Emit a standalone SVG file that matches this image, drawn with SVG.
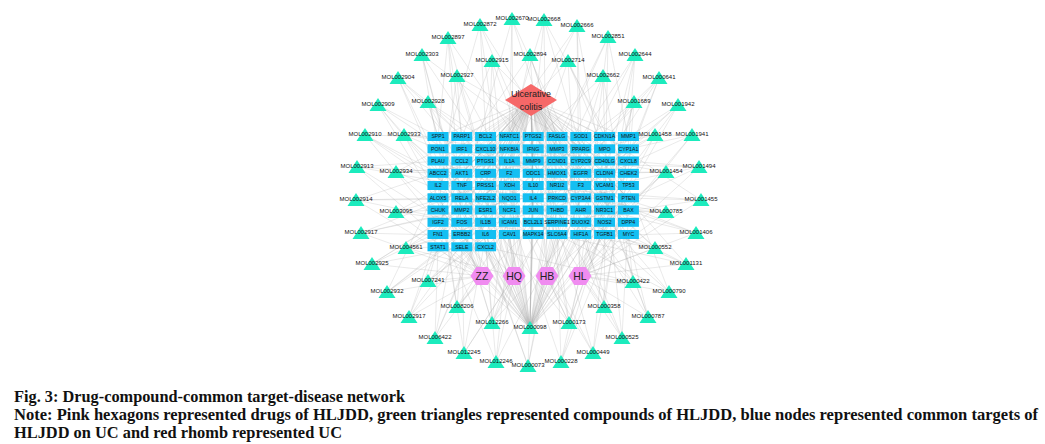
<svg xmlns="http://www.w3.org/2000/svg" xmlns:xlink="http://www.w3.org/1999/xlink" width="1045" height="444" viewBox="0 0 1045 444">
<defs>
<style>
.e{fill:none;stroke:#a8a8a8;stroke-width:.45;stroke-opacity:.55}
.tri{fill:#1cebbd}
.lbl{font-family:"Liberation Sans",Arial,sans-serif;font-size:6px;fill:#111;text-anchor:middle}
.tb{fill:#14bff2}
.tt{font-family:"Liberation Sans",Arial,sans-serif;font-size:5.2px;fill:#111;text-anchor:middle}
.hx{fill:#f08cf0}
.ht{font-family:"Liberation Sans",Arial,sans-serif;font-size:10.5px;fill:#222;text-anchor:middle}
.cap{font-family:"Liberation Serif","Times New Roman",serif;font-weight:bold;font-size:16.5px;fill:#111}
</style>
<path id="tri" class="tri" d="M0 -7L8.5 6H-8.5Z"/>
<rect id="box" class="tb" x="-10.5" y="-4.5" width="21" height="9"/>
<polygon id="hex" class="hx" points="-11.5,0 -5.75,-9 5.75,-9 11.5,0 5.75,9 -5.75,9"/>
</defs>
<rect width="1045" height="444" fill="#fff"/>
<g id="connectors">
<path class="e" d="M531 100L438 137M531 100L462 137M531 100L486 137M531 100L509 137M531 100L533 137M531 100L557 137M531 100L581 137M531 100L605 137M531 100L628 137M531 100L438 149M531 100L462 149M531 100L486 149M531 100L509 149M531 100L533 149M531 100L557 149M531 100L581 149M531 100L605 149M531 100L628 149M531 100L438 161M531 100L462 161M531 100L486 161M531 100L509 161M531 100L533 161M531 100L557 161M531 100L581 161M531 100L605 161M531 100L628 161M531 100L438 173M531 100L462 173M531 100L486 173M531 100L509 173M531 100L533 173M531 100L557 173M531 100L581 173M531 100L605 173M531 100L628 173M531 100L438 186M531 100L462 186M531 100L486 186M531 100L509 186M531 100L533 186M531 100L557 186M531 100L581 186M531 100L605 186M531 100L628 186M531 100L438 198M531 100L462 198M531 100L486 198M531 100L509 198M531 100L533 198M531 100L557 198M531 100L581 198M531 100L605 198M531 100L628 198M531 100L438 210M531 100L462 210M531 100L486 210M531 100L509 210M531 100L533 210M531 100L557 210M531 100L581 210M531 100L605 210M531 100L628 210M531 100L438 222M531 100L462 222M531 100L486 222M531 100L509 222M531 100L533 222M531 100L557 222M531 100L581 222M531 100L605 222M531 100L628 222M531 100L438 235M531 100L462 235M531 100L486 235M531 100L509 235M531 100L533 235M531 100L557 235M531 100L581 235M531 100L605 235M531 100L628 235M531 100L438 247M531 100L462 247M531 100L486 247"/>
<path class="e" d="M480 25L514 276M512 19L514 276M544 20L547 276M577 26L580 276M448 38L482 276M608 37L580 276M422 55L482 276M635 55L580 276M492 61L514 276M530 55L547 276M568 61L580 276M398 78L482 276M457 76L514 276M603 76L547 276M659 78L580 276M378 105L482 276M428 102L514 276M634 102L580 276M678 105L580 276M365 135L482 276M404 135L482 276M357 167L482 276M396 172L514 276M356 200L482 276M396 212L482 276M361 233L482 276M406 248L514 276M372 264L482 276M428 281L482 276M387 292L482 276M655 135L580 276M692 135L580 276M666 172L547 276M699 167L580 276M701 200L580 276M666 212L580 276M696 233L580 276M655 248L580 276M686 264L580 276M633 282L580 276M669 292L580 276M457 307L482 276M409 317L482 276M492 323L514 276M530 328L482 276M530 328L514 276M530 328L547 276M530 328L580 276M569 323L580 276M569 323L547 276M604 307L580 276M648 317L580 276M435 338L482 276M622 338L580 276M464 353L514 276M593 353L547 276M496 362L514 276M528 366L547 276M561 362L580 276"/>
<path class="e" d="M480 25L486 137M480 25L533 149M480 25L438 173M480 25L581 186M512 19L509 137M512 19L557 161M512 19L462 198M512 19L605 222M544 20L533 137M544 20L581 149M544 20L486 210M544 20L628 173M577 26L581 137M577 26L509 161M577 26L605 186M577 26L438 222M448 38L438 137M448 38L486 173M448 38L557 198M448 38L462 235M608 37L628 137M608 37L557 149M608 37L605 198M608 37L509 235M422 55L438 149M422 55L509 186M422 55L462 210M422 55L581 173M635 55L628 149M635 55L581 161M635 55L533 210M635 55L605 235M492 61L462 137M492 61L533 173M492 61L486 222M492 61L628 198M530 55L509 149M530 55L557 137M530 55L438 186M530 55L581 210M568 61L605 137M568 61L533 161M568 61L628 210M568 61L462 173M398 78L438 161M398 78L486 149M398 78L509 210M398 78L557 222M457 76L462 149M457 76L509 173M457 76L438 210M457 76L605 161M603 76L605 149M603 76L557 173M603 76L628 222M603 76L486 186M659 78L628 161M659 78L581 198M659 78L533 222M659 78L486 247M378 105L438 173M378 105L462 161M378 105L533 186M378 105L486 235M428 102L438 137M428 102L486 161M428 102L557 186M428 102L462 222M634 102L628 173M634 102L581 173M634 102L509 198M634 102L605 210M678 105L628 137M678 105L605 173M678 105L557 210M678 105L581 235"/>
<path class="e" d="M365 135L438 137M365 135L438 186M365 135L486 198M365 135L533 235M404 135L438 149M404 135L462 186M404 135L509 222M404 135L581 161M357 167L438 161M357 167L462 173M357 167L533 198M357 167L486 247M396 172L438 173M396 172L486 210M396 172L557 161M396 172L462 137M356 200L438 198M356 200L462 222M356 200L509 149M356 200L605 198M396 212L438 210M396 212L486 186M396 212L533 137M396 212L557 235M361 233L438 235M361 233L462 210M361 233L581 186M361 233L509 173M406 248L438 247M406 248L486 222M406 248L533 161M406 248L628 186M372 264L438 222M372 264L462 247M372 264L509 198M372 264L557 149M428 281L438 247M428 281L486 235M428 281L533 173M428 281L605 149M387 292L462 235M387 292L509 210M387 292L438 186M387 292L581 137M655 135L628 137M655 135L605 161M655 135L557 198M655 135L486 173M692 135L628 149M692 135L581 186M692 135L628 210M692 135L509 137M666 172L628 173M666 172L605 222M666 172L533 149M666 172L557 173M699 167L628 161M699 167L581 222M699 167L486 161M699 167L605 186M701 200L628 198M701 200L605 137M701 200L557 222M701 200L509 186M666 212L628 210M666 212L581 198M666 212L462 149M666 212L533 210M696 233L628 235M696 233L605 210M696 233L509 161M696 233L557 186M655 248L628 222M655 248L581 235M655 248L486 198M655 248L533 137M686 264L628 235M686 264L605 173M686 264L557 235M686 264L438 161M633 282L628 235M633 282L581 210M633 282L486 247M633 282L605 161M633 282L486 149M669 292L605 235M669 292L628 186M669 292L557 161M669 292L533 222"/>
<path class="e" d="M457 307L462 247M457 307L509 222M457 307L438 173M457 307L557 198M409 317L438 247M409 317L486 210M409 317L533 186M409 317L462 161M492 323L486 247M492 323L462 222M492 323L509 173M492 323L557 137M492 323L605 198M492 323L438 149M492 323L581 161M569 323L557 235M569 323L605 222M569 323L509 198M569 323L628 161M569 323L462 186M569 323L533 149M604 307L605 235M604 307L581 222M604 307L533 198M604 307L628 149M648 317L628 235M648 317L605 198M648 317L557 173M648 317L581 137M435 338L438 247M435 338L486 222M435 338L509 161M435 338L462 198M622 338L628 222M622 338L581 235M622 338L533 161M622 338L605 173M464 353L462 247M464 353L486 235M464 353L557 210M464 353L438 186M593 353L605 235M593 353L557 222M593 353L628 173M593 353L509 186M496 362L486 247M496 362L509 235M496 362L438 222M496 362L581 198M528 366L533 235M528 366L486 247M528 366L557 210M528 366L462 173M561 362L557 235M561 362L605 222M561 362L509 210M561 362L628 198"/>
<path class="e" d="M530 328L438 137M530 328L462 137M530 328L486 137M530 328L509 137M530 328L533 137M530 328L557 137M530 328L581 137M530 328L605 137M530 328L628 137M530 328L438 149M530 328L486 149M530 328L533 149M530 328L581 149M530 328L628 149M530 328L462 161M530 328L509 161M530 328L557 161M530 328L605 161M530 328L438 173M530 328L486 173M530 328L533 173M530 328L581 173M530 328L628 173M530 328L462 186M530 328L509 186M530 328L557 186M530 328L605 186M530 328L438 198M530 328L486 198M530 328L533 198M530 328L581 198M530 328L628 198M530 328L462 210M530 328L509 210M530 328L557 210M530 328L605 210M530 328L438 222M530 328L486 222M530 328L533 222M530 328L581 222M530 328L628 222M530 328L462 235M530 328L509 235M530 328L557 235M530 328L605 235M530 328L438 247M530 328L462 247M530 328L486 247"/>
</g>
<g id="Ulcerative-colitis">
<polygon points="531,84 557,100 531,116 505,100" fill="#f66868"/>
<text x="531" y="96.5" font-family="Liberation Sans,Arial,sans-serif" font-size="9" fill="#222" text-anchor="middle">Ulcerative</text>
<text x="531" y="109.5" font-family="Liberation Sans,Arial,sans-serif" font-size="9" fill="#222" text-anchor="middle">colitis</text>
</g>
<g id="drugs">
<g id="ZZ" transform="translate(482,276)"><use href="#hex"/><text class="ht" y="3.7">ZZ</text></g>
<g id="HQ" transform="translate(514,276)"><use href="#hex"/><text class="ht" y="3.7">HQ</text></g>
<g id="HB" transform="translate(547,276)"><use href="#hex"/><text class="ht" y="3.7">HB</text></g>
<g id="HL" transform="translate(580,276)"><use href="#hex"/><text class="ht" y="3.7">HL</text></g>
</g>
<g id="targets">
<g id="t-SPP1" transform="translate(438,136.5)"><use href="#box"/><text class="tt" y="1.8">SPP1</text></g>
<g id="t-PARP1" transform="translate(461.8,136.5)"><use href="#box"/><text class="tt" y="1.8">PARP1</text></g>
<g id="t-BCL2" transform="translate(485.6,136.5)"><use href="#box"/><text class="tt" y="1.8">BCL2</text></g>
<g id="t-NFATC1" transform="translate(509.4,136.5)"><use href="#box"/><text class="tt" y="1.8">NFATC1</text></g>
<g id="t-PTGS2" transform="translate(533.2,136.5)"><use href="#box"/><text class="tt" y="1.8">PTGS2</text></g>
<g id="t-FASLG" transform="translate(557,136.5)"><use href="#box"/><text class="tt" y="1.8">FASLG</text></g>
<g id="t-SOD1" transform="translate(580.8,136.5)"><use href="#box"/><text class="tt" y="1.8">SOD1</text></g>
<g id="t-CDKN1A" transform="translate(604.6,136.5)"><use href="#box"/><text class="tt" y="1.8">CDKN1A</text></g>
<g id="t-MMP1" transform="translate(628.4,136.5)"><use href="#box"/><text class="tt" y="1.8">MMP1</text></g>
<g id="t-PON1" transform="translate(438,148.8)"><use href="#box"/><text class="tt" y="1.8">PON1</text></g>
<g id="t-IRF1" transform="translate(461.8,148.8)"><use href="#box"/><text class="tt" y="1.8">IRF1</text></g>
<g id="t-CXCL10" transform="translate(485.6,148.8)"><use href="#box"/><text class="tt" y="1.8">CXCL10</text></g>
<g id="t-NFKBIA" transform="translate(509.4,148.8)"><use href="#box"/><text class="tt" y="1.8">NFKBIA</text></g>
<g id="t-IFNG" transform="translate(533.2,148.8)"><use href="#box"/><text class="tt" y="1.8">IFNG</text></g>
<g id="t-MMP3" transform="translate(557,148.8)"><use href="#box"/><text class="tt" y="1.8">MMP3</text></g>
<g id="t-PPARG" transform="translate(580.8,148.8)"><use href="#box"/><text class="tt" y="1.8">PPARG</text></g>
<g id="t-MPO" transform="translate(604.6,148.8)"><use href="#box"/><text class="tt" y="1.8">MPO</text></g>
<g id="t-CYP1A1" transform="translate(628.4,148.8)"><use href="#box"/><text class="tt" y="1.8">CYP1A1</text></g>
<g id="t-PLAU" transform="translate(438,161)"><use href="#box"/><text class="tt" y="1.8">PLAU</text></g>
<g id="t-CCL2" transform="translate(461.8,161)"><use href="#box"/><text class="tt" y="1.8">CCL2</text></g>
<g id="t-PTGS1" transform="translate(485.6,161)"><use href="#box"/><text class="tt" y="1.8">PTGS1</text></g>
<g id="t-IL1A" transform="translate(509.4,161)"><use href="#box"/><text class="tt" y="1.8">IL1A</text></g>
<g id="t-MMP9" transform="translate(533.2,161)"><use href="#box"/><text class="tt" y="1.8">MMP9</text></g>
<g id="t-CCND1" transform="translate(557,161)"><use href="#box"/><text class="tt" y="1.8">CCND1</text></g>
<g id="t-CYP2C9" transform="translate(580.8,161)"><use href="#box"/><text class="tt" y="1.8">CYP2C9</text></g>
<g id="t-CD40LG" transform="translate(604.6,161)"><use href="#box"/><text class="tt" y="1.8">CD40LG</text></g>
<g id="t-CXCL8" transform="translate(628.4,161)"><use href="#box"/><text class="tt" y="1.8">CXCL8</text></g>
<g id="t-ABCC2" transform="translate(438,173.3)"><use href="#box"/><text class="tt" y="1.8">ABCC2</text></g>
<g id="t-AKT1" transform="translate(461.8,173.3)"><use href="#box"/><text class="tt" y="1.8">AKT1</text></g>
<g id="t-CRP" transform="translate(485.6,173.3)"><use href="#box"/><text class="tt" y="1.8">CRP</text></g>
<g id="t-F2" transform="translate(509.4,173.3)"><use href="#box"/><text class="tt" y="1.8">F2</text></g>
<g id="t-ODC1" transform="translate(533.2,173.3)"><use href="#box"/><text class="tt" y="1.8">ODC1</text></g>
<g id="t-HMOX1" transform="translate(557,173.3)"><use href="#box"/><text class="tt" y="1.8">HMOX1</text></g>
<g id="t-EGFR" transform="translate(580.8,173.3)"><use href="#box"/><text class="tt" y="1.8">EGFR</text></g>
<g id="t-CLDN4" transform="translate(604.6,173.3)"><use href="#box"/><text class="tt" y="1.8">CLDN4</text></g>
<g id="t-CHEK2" transform="translate(628.4,173.3)"><use href="#box"/><text class="tt" y="1.8">CHEK2</text></g>
<g id="t-IL2" transform="translate(438,185.5)"><use href="#box"/><text class="tt" y="1.8">IL2</text></g>
<g id="t-TNF" transform="translate(461.8,185.5)"><use href="#box"/><text class="tt" y="1.8">TNF</text></g>
<g id="t-PRSS1" transform="translate(485.6,185.5)"><use href="#box"/><text class="tt" y="1.8">PRSS1</text></g>
<g id="t-XDH" transform="translate(509.4,185.5)"><use href="#box"/><text class="tt" y="1.8">XDH</text></g>
<g id="t-IL10" transform="translate(533.2,185.5)"><use href="#box"/><text class="tt" y="1.8">IL10</text></g>
<g id="t-NR1I2" transform="translate(557,185.5)"><use href="#box"/><text class="tt" y="1.8">NR1I2</text></g>
<g id="t-F3" transform="translate(580.8,185.5)"><use href="#box"/><text class="tt" y="1.8">F3</text></g>
<g id="t-VCAM1" transform="translate(604.6,185.5)"><use href="#box"/><text class="tt" y="1.8">VCAM1</text></g>
<g id="t-TP53" transform="translate(628.4,185.5)"><use href="#box"/><text class="tt" y="1.8">TP53</text></g>
<g id="t-ALOX5" transform="translate(438,197.8)"><use href="#box"/><text class="tt" y="1.8">ALOX5</text></g>
<g id="t-RELA" transform="translate(461.8,197.8)"><use href="#box"/><text class="tt" y="1.8">RELA</text></g>
<g id="t-NFE2L2" transform="translate(485.6,197.8)"><use href="#box"/><text class="tt" y="1.8">NFE2L2</text></g>
<g id="t-NQO1" transform="translate(509.4,197.8)"><use href="#box"/><text class="tt" y="1.8">NQO1</text></g>
<g id="t-IL4" transform="translate(533.2,197.8)"><use href="#box"/><text class="tt" y="1.8">IL4</text></g>
<g id="t-PRKCD" transform="translate(557,197.8)"><use href="#box"/><text class="tt" y="1.8">PRKCD</text></g>
<g id="t-CYP3A4" transform="translate(580.8,197.8)"><use href="#box"/><text class="tt" y="1.8">CYP3A4</text></g>
<g id="t-GSTM1" transform="translate(604.6,197.8)"><use href="#box"/><text class="tt" y="1.8">GSTM1</text></g>
<g id="t-PTEN" transform="translate(628.4,197.8)"><use href="#box"/><text class="tt" y="1.8">PTEN</text></g>
<g id="t-CHUK" transform="translate(438,210)"><use href="#box"/><text class="tt" y="1.8">CHUK</text></g>
<g id="t-MMP2" transform="translate(461.8,210)"><use href="#box"/><text class="tt" y="1.8">MMP2</text></g>
<g id="t-ESR1" transform="translate(485.6,210)"><use href="#box"/><text class="tt" y="1.8">ESR1</text></g>
<g id="t-NCF1" transform="translate(509.4,210)"><use href="#box"/><text class="tt" y="1.8">NCF1</text></g>
<g id="t-JUN" transform="translate(533.2,210)"><use href="#box"/><text class="tt" y="1.8">JUN</text></g>
<g id="t-THBD" transform="translate(557,210)"><use href="#box"/><text class="tt" y="1.8">THBD</text></g>
<g id="t-AHR" transform="translate(580.8,210)"><use href="#box"/><text class="tt" y="1.8">AHR</text></g>
<g id="t-NR3C1" transform="translate(604.6,210)"><use href="#box"/><text class="tt" y="1.8">NR3C1</text></g>
<g id="t-BAX" transform="translate(628.4,210)"><use href="#box"/><text class="tt" y="1.8">BAX</text></g>
<g id="t-IGF2" transform="translate(438,222.3)"><use href="#box"/><text class="tt" y="1.8">IGF2</text></g>
<g id="t-FOS" transform="translate(461.8,222.3)"><use href="#box"/><text class="tt" y="1.8">FOS</text></g>
<g id="t-IL1B" transform="translate(485.6,222.3)"><use href="#box"/><text class="tt" y="1.8">IL1B</text></g>
<g id="t-ICAM1" transform="translate(509.4,222.3)"><use href="#box"/><text class="tt" y="1.8">ICAM1</text></g>
<g id="t-BCL2L1" transform="translate(533.2,222.3)"><use href="#box"/><text class="tt" y="1.8">BCL2L1</text></g>
<g id="t-SERPINE1" transform="translate(557,222.3)"><use href="#box"/><text class="tt" y="1.8">SERPINE1</text></g>
<g id="t-DUOX2" transform="translate(580.8,222.3)"><use href="#box"/><text class="tt" y="1.8">DUOX2</text></g>
<g id="t-NOS2" transform="translate(604.6,222.3)"><use href="#box"/><text class="tt" y="1.8">NOS2</text></g>
<g id="t-DPP4" transform="translate(628.4,222.3)"><use href="#box"/><text class="tt" y="1.8">DPP4</text></g>
<g id="t-FN1" transform="translate(438,234.5)"><use href="#box"/><text class="tt" y="1.8">FN1</text></g>
<g id="t-ERBB2" transform="translate(461.8,234.5)"><use href="#box"/><text class="tt" y="1.8">ERBB2</text></g>
<g id="t-IL6" transform="translate(485.6,234.5)"><use href="#box"/><text class="tt" y="1.8">IL6</text></g>
<g id="t-CAV1" transform="translate(509.4,234.5)"><use href="#box"/><text class="tt" y="1.8">CAV1</text></g>
<g id="t-MAPK14" transform="translate(533.2,234.5)"><use href="#box"/><text class="tt" y="1.8">MAPK14</text></g>
<g id="t-SLC6A4" transform="translate(557,234.5)"><use href="#box"/><text class="tt" y="1.8">SLC6A4</text></g>
<g id="t-HIF1A" transform="translate(580.8,234.5)"><use href="#box"/><text class="tt" y="1.8">HIF1A</text></g>
<g id="t-TGFB1" transform="translate(604.6,234.5)"><use href="#box"/><text class="tt" y="1.8">TGFB1</text></g>
<g id="t-MYC" transform="translate(628.4,234.5)"><use href="#box"/><text class="tt" y="1.8">MYC</text></g>
<g id="t-STAT1" transform="translate(438,246.8)"><use href="#box"/><text class="tt" y="1.8">STAT1</text></g>
<g id="t-SELE" transform="translate(461.8,246.8)"><use href="#box"/><text class="tt" y="1.8">SELE</text></g>
<g id="t-CXCL2" transform="translate(485.6,246.8)"><use href="#box"/><text class="tt" y="1.8">CXCL2</text></g>
</g>
<g id="compounds">
<g id="MOL002872" transform="translate(480,25)"><use href="#tri"/><text class="lbl" y="1">MOL002872</text></g>
<g id="MOL002670" transform="translate(512,19)"><use href="#tri"/><text class="lbl" y="1">MOL002670</text></g>
<g id="MOL002668" transform="translate(544,20)"><use href="#tri"/><text class="lbl" y="1">MOL002668</text></g>
<g id="MOL002666" transform="translate(577,26)"><use href="#tri"/><text class="lbl" y="1">MOL002666</text></g>
<g id="MOL002897" transform="translate(448,38)"><use href="#tri"/><text class="lbl" y="1">MOL002897</text></g>
<g id="MOL002851" transform="translate(608,37)"><use href="#tri"/><text class="lbl" y="1">MOL002851</text></g>
<g id="MOL002303" transform="translate(422,55)"><use href="#tri"/><text class="lbl" y="1">MOL002303</text></g>
<g id="MOL002644" transform="translate(635,55)"><use href="#tri"/><text class="lbl" y="1">MOL002644</text></g>
<g id="MOL002915" transform="translate(492,61)"><use href="#tri"/><text class="lbl" y="1">MOL002915</text></g>
<g id="MOL002894" transform="translate(530,55)"><use href="#tri"/><text class="lbl" y="1">MOL002894</text></g>
<g id="MOL002714" transform="translate(568,61)"><use href="#tri"/><text class="lbl" y="1">MOL002714</text></g>
<g id="MOL002904" transform="translate(398,78)"><use href="#tri"/><text class="lbl" y="1">MOL002904</text></g>
<g id="MOL002927" transform="translate(457,76)"><use href="#tri"/><text class="lbl" y="1">MOL002927</text></g>
<g id="MOL002662" transform="translate(603,76)"><use href="#tri"/><text class="lbl" y="1">MOL002662</text></g>
<g id="MOL000641" transform="translate(659,78)"><use href="#tri"/><text class="lbl" y="1">MOL000641</text></g>
<g id="MOL002909" transform="translate(378,105)"><use href="#tri"/><text class="lbl" y="1">MOL002909</text></g>
<g id="MOL002928" transform="translate(428,102)"><use href="#tri"/><text class="lbl" y="1">MOL002928</text></g>
<g id="MOL001689" transform="translate(634,102)"><use href="#tri"/><text class="lbl" y="1">MOL001689</text></g>
<g id="MOL001942" transform="translate(678,105)"><use href="#tri"/><text class="lbl" y="1">MOL001942</text></g>
<g id="MOL002910" transform="translate(365,135)"><use href="#tri"/><text class="lbl" y="1">MOL002910</text></g>
<g id="MOL002933" transform="translate(404,135)"><use href="#tri"/><text class="lbl" y="1">MOL002933</text></g>
<g id="MOL002913" transform="translate(357,167)"><use href="#tri"/><text class="lbl" y="1">MOL002913</text></g>
<g id="MOL002934" transform="translate(396,172)"><use href="#tri"/><text class="lbl" y="1">MOL002934</text></g>
<g id="MOL002914" transform="translate(356,200)"><use href="#tri"/><text class="lbl" y="1">MOL002914</text></g>
<g id="MOL003095" transform="translate(396,212)"><use href="#tri"/><text class="lbl" y="1">MOL003095</text></g>
<g id="MOL002917" transform="translate(361,233)"><use href="#tri"/><text class="lbl" y="1">MOL002917</text></g>
<g id="MOL004561" transform="translate(406,248)"><use href="#tri"/><text class="lbl" y="1">MOL004561</text></g>
<g id="MOL002925" transform="translate(372,264)"><use href="#tri"/><text class="lbl" y="1">MOL002925</text></g>
<g id="MOL007241" transform="translate(428,281)"><use href="#tri"/><text class="lbl" y="1">MOL007241</text></g>
<g id="MOL002932" transform="translate(387,292)"><use href="#tri"/><text class="lbl" y="1">MOL002932</text></g>
<g id="MOL001458" transform="translate(655,135)"><use href="#tri"/><text class="lbl" y="1">MOL001458</text></g>
<g id="MOL001941" transform="translate(692,135)"><use href="#tri"/><text class="lbl" y="1">MOL001941</text></g>
<g id="MOL001454" transform="translate(666,172)"><use href="#tri"/><text class="lbl" y="1">MOL001454</text></g>
<g id="MOL001494" transform="translate(699,167)"><use href="#tri"/><text class="lbl" y="1">MOL001494</text></g>
<g id="MOL001455" transform="translate(701,200)"><use href="#tri"/><text class="lbl" y="1">MOL001455</text></g>
<g id="MOL000785" transform="translate(666,212)"><use href="#tri"/><text class="lbl" y="1">MOL000785</text></g>
<g id="MOL001406" transform="translate(696,233)"><use href="#tri"/><text class="lbl" y="1">MOL001406</text></g>
<g id="MOL000552" transform="translate(655,248)"><use href="#tri"/><text class="lbl" y="1">MOL000552</text></g>
<g id="MOL001131" transform="translate(686,264)"><use href="#tri"/><text class="lbl" y="1">MOL001131</text></g>
<g id="MOL000422" transform="translate(633,282)"><use href="#tri"/><text class="lbl" y="1">MOL000422</text></g>
<g id="MOL000790" transform="translate(669,292)"><use href="#tri"/><text class="lbl" y="1">MOL000790</text></g>
<g id="MOL008206" transform="translate(457,307)"><use href="#tri"/><text class="lbl" y="1">MOL008206</text></g>
<g id="MOL002917-b" transform="translate(409,317)"><use href="#tri"/><text class="lbl" y="1">MOL002917</text></g>
<g id="MOL012266" transform="translate(492,323)"><use href="#tri"/><text class="lbl" y="1">MOL012266</text></g>
<g id="MOL000098" transform="translate(530,328)"><use href="#tri"/><text class="lbl" y="1">MOL000098</text></g>
<g id="MOL000173" transform="translate(569,323)"><use href="#tri"/><text class="lbl" y="1">MOL000173</text></g>
<g id="MOL000358" transform="translate(604,307)"><use href="#tri"/><text class="lbl" y="1">MOL000358</text></g>
<g id="MOL000787" transform="translate(648,317)"><use href="#tri"/><text class="lbl" y="1">MOL000787</text></g>
<g id="MOL006422" transform="translate(435,338)"><use href="#tri"/><text class="lbl" y="1">MOL006422</text></g>
<g id="MOL000525" transform="translate(622,338)"><use href="#tri"/><text class="lbl" y="1">MOL000525</text></g>
<g id="MOL012245" transform="translate(464,353)"><use href="#tri"/><text class="lbl" y="1">MOL012245</text></g>
<g id="MOL000449" transform="translate(593,353)"><use href="#tri"/><text class="lbl" y="1">MOL000449</text></g>
<g id="MOL012246" transform="translate(496,362)"><use href="#tri"/><text class="lbl" y="1">MOL012246</text></g>
<g id="MOL000073" transform="translate(528,366)"><use href="#tri"/><text class="lbl" y="1">MOL000073</text></g>
<g id="MOL000228" transform="translate(561,362)"><use href="#tri"/><text class="lbl" y="1">MOL000228</text></g>
</g>
<g id="caption">
<text class="cap" x="14" y="402" textLength="391" lengthAdjust="spacingAndGlyphs">Fig. 3: Drug-compound-common target-disease network</text>
<text class="cap" x="14" y="420" textLength="1024" lengthAdjust="spacingAndGlyphs">Note: Pink hexagons represented drugs of HLJDD, green triangles represented compounds of HLJDD, blue nodes represented common targets of</text>
<text class="cap" x="14" y="438" textLength="328" lengthAdjust="spacingAndGlyphs">HLJDD on UC and red rhomb represented UC</text>
</g>
</svg>
